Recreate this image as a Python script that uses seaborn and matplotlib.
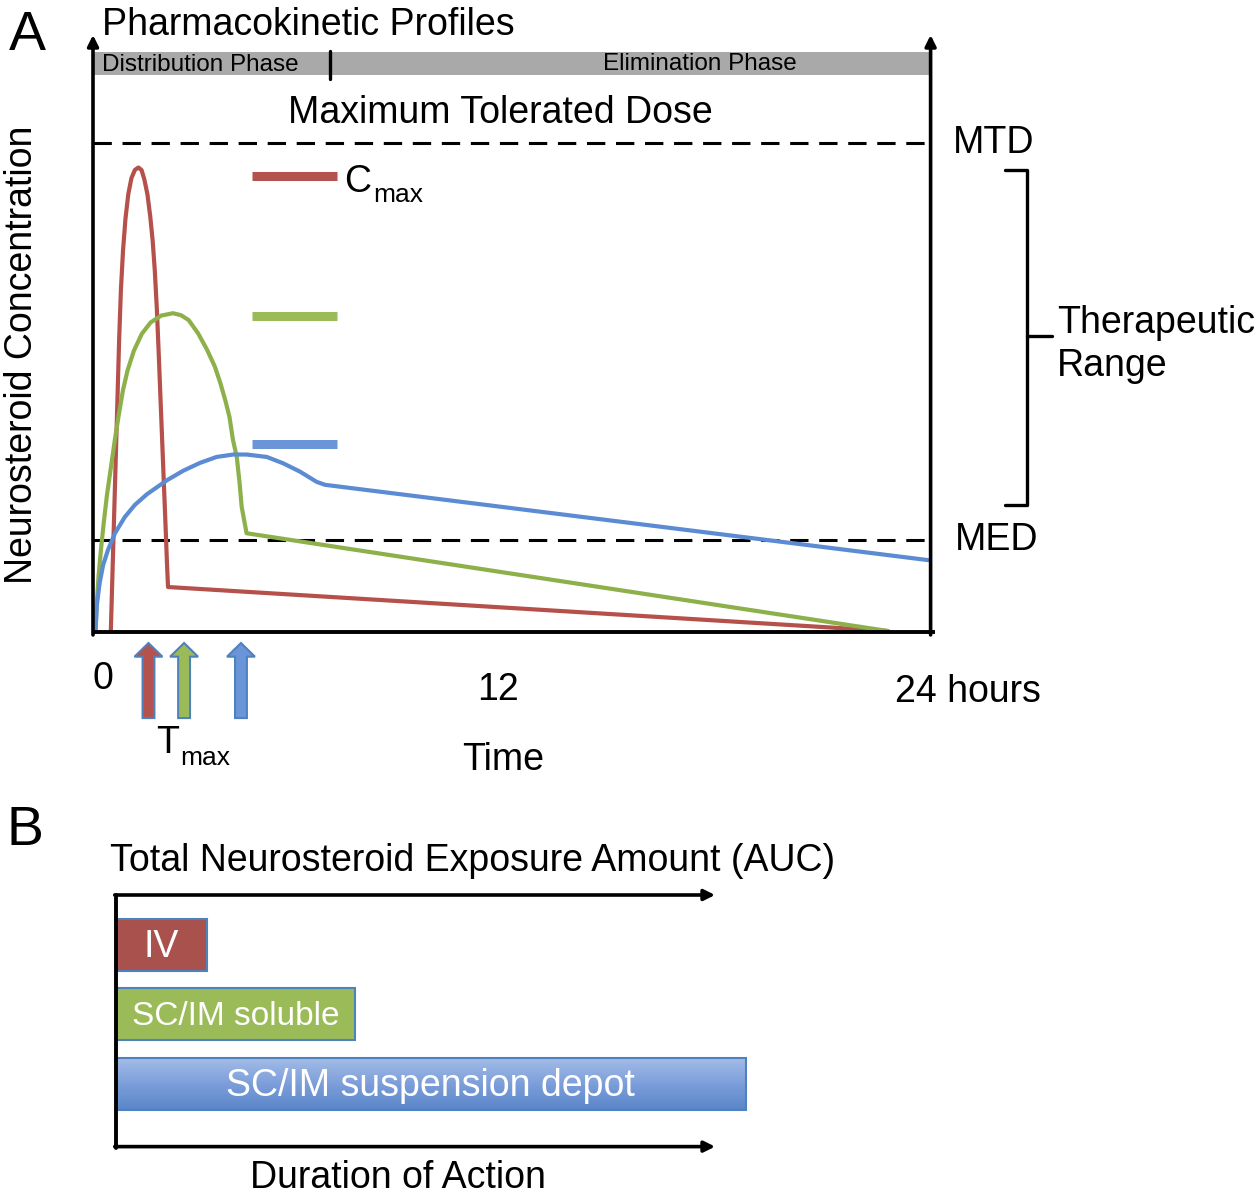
import numpy as np
import pandas as pd
import matplotlib
matplotlib.use("Agg")
import matplotlib.pyplot as plt
from matplotlib.patches import FancyArrow
from matplotlib.colors import LinearSegmentedColormap
import seaborn as sns

# ---------------- data ----------------
# Panel A: concentration (MTD = 100) vs time in hours
iv_time = [0.51, 0.57, 0.63, 0.69, 0.75, 0.80, 0.86, 0.93, 1.01, 1.10, 1.20, 1.30,
           1.39, 1.47, 1.56, 1.64, 1.71, 1.77, 1.83, 1.88, 1.93, 1.98, 2.03, 2.08,
           2.12, 2.15, 22.78]
iv_conc = [0.0, 15.0, 30.0, 45.0, 60.0, 70.0, 78.0, 84.5, 89.5, 92.8, 94.5, 95.0,
           94.5, 92.6, 89.5, 85.0, 80.0, 74.0, 66.0, 57.5, 48.5, 39.5, 30.5, 21.5,
           14.0, 9.2, 0.2]

sol_time = [0.07, 0.11, 0.16, 0.23, 0.31, 0.40, 0.51, 0.62, 0.74, 0.86, 0.99, 1.17,
            1.40, 1.65, 1.95, 2.29, 2.52, 2.74, 3.01, 3.27, 3.49, 3.65, 3.79, 3.91,
            4.01, 4.12, 4.20, 4.26, 4.40, 22.78]
sol_conc = [0.0, 6.0, 11.5, 17.0, 22.5, 28.0, 33.5, 39.0, 44.5, 49.5, 53.5, 57.5,
            61.0, 63.3, 64.7, 65.2, 64.8, 63.8, 61.1, 57.7, 54.3, 50.9, 47.4, 44.0,
            39.3, 35.8, 30.5, 25.6, 20.2, 0.2]

dep_time = [0.07, 0.11, 0.19, 0.29, 0.43, 0.63, 0.91, 1.20, 1.55, 2.11, 2.59, 3.07,
            3.54, 4.02, 4.40, 4.98, 5.45, 5.93, 6.41, 6.65, 23.93]
dep_conc = [0.0, 5.5, 10.0, 13.7, 16.8, 20.2, 23.5, 26.0, 28.2, 31.0, 33.0, 34.6,
            35.8, 36.3, 36.3, 35.8, 34.5, 32.8, 30.7, 30.1, 14.7]

routes = ["IV", "SC/IM soluble", "SC/IM suspension depot"]
line_colors = ["#B5504B", "#8DB04A", "#5B8BD3"]
cmax_colors = ["#B4524E", "#9BBB59", "#6A95D8"]
edge_blue = "#4F81BD"

MTD = 100.0
MED = 18.8
cmax_marks = [93.3, 64.6, 38.4]      # Cmax markers
tmax_marks = [1.59, 2.61, 4.24]      # Tmax arrows (hours)
phase_split = 6.79                   # distribution / elimination boundary (hours)

# Panel B: duration of action (arbitrary units)
bar_labels = ["IV", "SC/IM soluble", "SC/IM suspension depot"]
bar_values = [14.2, 37.3, 98.4]
bar_colors = ["#A9514D", "#9BBB59", "#6E93D4"]

# ---------------- figure ----------------
sns.set_theme(style="white")
plt.rcParams["font.family"] = ["Liberation Sans", "DejaVu Sans"]
plt.rcParams["text.color"] = "black"

W, H = 1260, 1196
fig = plt.figure(figsize=(W / 100, H / 100), dpi=100)


def fx(x):
    return x / W


def fy(y):
    return 1 - y / H


BIG = 27

# ---------- Panel A ----------
axA = fig.add_axes([fx(93), fy(632), (930.6 - 93) / W, (632 - 35) / H])
axA.set_xlim(0, 24)
axA.set_ylim(0, 122.1)
axA.axis("off")

df = pd.concat([
    pd.DataFrame({"route": routes[0], "time": iv_time, "conc": iv_conc}),
    pd.DataFrame({"route": routes[1], "time": sol_time, "conc": sol_conc}),
    pd.DataFrame({"route": routes[2], "time": dep_time, "conc": dep_conc}),
])
sns.lineplot(data=df, x="time", y="conc", hue="route", palette=line_colors,
             sort=False, estimator=None, linewidth=3.0, legend=False, ax=axA,
             solid_joinstyle="round", solid_capstyle="round")

# dashed reference levels
for lvl in (MTD, MED):
    axA.plot([0, 24], [lvl, lvl], color="black", lw=2.2, ls=(0, (6, 3.5)), zorder=1)

# gray phase band
axA.fill_between([0, 24], 113.9, 118.7, color="#A9A9A9", lw=0, zorder=0)
axA.plot([phase_split, phase_split], [113.2, 118.8], color="black", lw=2.4, clip_on=False)
axA.text(0.25, 116.0, "Distribution Phase", fontsize=17.5, va="center", ha="left")
axA.text(17.4, 116.2, "Elimination Phase", fontsize=17.5, va="center", ha="center")

# axes with arrows
arr = dict(arrowstyle="-|>", lw=2.6, color="black", mutation_scale=16, shrinkA=0, shrinkB=0)
axA.annotate("", xy=(0, 122.1), xytext=(0, -0.6), arrowprops=arr, annotation_clip=False)
axA.annotate("", xy=(24, 122.1), xytext=(24, -0.6), arrowprops=arr, annotation_clip=False)
axA.plot([0, 24.13], [0, 0], color="black", lw=2.8, clip_on=False, solid_capstyle="butt")

# Cmax markers
for c, col in zip(cmax_marks, cmax_colors):
    axA.plot([4.55, 6.98], [c, c], color=col, lw=6.5, solid_capstyle="butt")
fig.text(fx(344), fy(182), "C", fontsize=BIG, va="center", ha="left")
fig.text(fx(373), fy(195), "max", fontsize=19, va="center", ha="left")

# Tmax arrows
for t, col in zip(tmax_marks, cmax_colors):
    a = FancyArrow(t, -17.6, 0, 15.35, width=0.34, head_width=0.8, head_length=2.8,
                   length_includes_head=True, facecolor=col, edgecolor=edge_blue,
                   lw=1.5, clip_on=False)
    axA.add_patch(a)

# bracket for therapeutic range
bx, bl, bm = 26.76, 26.13, 27.48
ctop, cbot, cmid = 94.5, 26.0, 60.5
axA.plot([bl, bx, bx, bl], [ctop, ctop, cbot, cbot], color="black", lw=2.4,
         clip_on=False, solid_joinstyle="round")
axA.plot([bx, bm], [cmid, cmid], color="black", lw=2.4, clip_on=False)

# Panel A texts
fig.text(fx(27), fy(36), "A", fontsize=40, va="center", ha="center")
fig.text(fx(102), fy(25), "Pharmacokinetic Profiles", fontsize=BIG, va="center", ha="left")
fig.text(fx(500), fy(113), "Maximum Tolerated Dose", fontsize=BIG, va="center", ha="center")
fig.text(fx(953), fy(143), "MTD", fontsize=BIG, va="center", ha="left")
fig.text(fx(955), fy(540), "MED", fontsize=BIG, va="center", ha="left")
fig.text(fx(1057), fy(323), "Therapeutic", fontsize=BIG, va="center", ha="left")
fig.text(fx(1057), fy(366), "Range", fontsize=BIG, va="center", ha="left")
fig.text(fx(22), fy(355), "Neurosteroid Concentration", fontsize=BIG, va="center",
         ha="center", rotation=90)
fig.text(fx(103), fy(679), "0", fontsize=BIG, va="center", ha="center")
fig.text(fx(498), fy(690), "12", fontsize=BIG, va="center", ha="center")
fig.text(fx(968), fy(692), "24 hours", fontsize=BIG, va="center", ha="center")
fig.text(fx(503), fy(760), "Time", fontsize=BIG, va="center", ha="center")
fig.text(fx(156), fy(743), "T", fontsize=BIG, va="center", ha="left")
fig.text(fx(180), fy(758), "max", fontsize=19, va="center", ha="left")

# ---------- Panel B ----------
axB = fig.add_axes([fx(116), fy(1148), 640 / W, (1148 - 895) / H])
dfb = pd.DataFrame({"route": bar_labels, "duration": bar_values})
sns.barplot(data=dfb, x="duration", y="route", hue="route", palette=bar_colors,
            orient="h", width=0.75, legend=False, ax=axB, edgecolor=edge_blue,
            linewidth=1.5, saturation=1)
axB.set_xlim(0, 100)
axB.set_ylim(2.93, -0.722)
axB.axis("off")

# gradient on the depot bar
depot = axB.patches[2]
x0, y0 = depot.get_x(), depot.get_y()
w, h = depot.get_width(), depot.get_height()
cmap = LinearSegmentedColormap.from_list("dep", ["#A3BCE6", "#7C9EDA", "#5A86C9"])
grad = np.linspace(0, 1, 100).reshape(-1, 1)
im = axB.imshow(grad, extent=[x0, x0 + w, y0 + h, y0], aspect="auto", cmap=cmap,
                zorder=depot.get_zorder() - 0.1, origin="upper")
im.set_clip_path(depot)
depot.set_facecolor("none")
axB.set_xlim(0, 100)
axB.set_ylim(2.93, -0.722)

sizes = [BIG, 24, BIG]
for i, (lab, val) in enumerate(zip(bar_labels, bar_values)):
    axB.text(val / 2, i + 0.03, lab, color="white", fontsize=sizes[i], ha="center", va="center")

arrB = dict(arrowstyle="-|>", lw=2.6, color="black", mutation_scale=16, shrinkA=0, shrinkB=0)
axB.plot([0, 0], [-0.722, 2.93], color="black", lw=2.8, clip_on=False)
axB.annotate("", xy=(93.6, -0.722), xytext=(-0.2, -0.722), arrowprops=arrB, annotation_clip=False)
axB.annotate("", xy=(93.6, 2.91), xytext=(-0.2, 2.91), arrowprops=arrB, annotation_clip=False)

fig.text(fx(25), fy(831), "B", fontsize=40, va="center", ha="center")
fig.text(fx(110), fy(861), "Total Neurosteroid Exposure Amount (AUC)", fontsize=BIG,
         va="center", ha="left")
fig.text(fx(398), fy(1178), "Duration of Action", fontsize=BIG, va="center", ha="center")

fig.savefig("out.png", dpi=100)
